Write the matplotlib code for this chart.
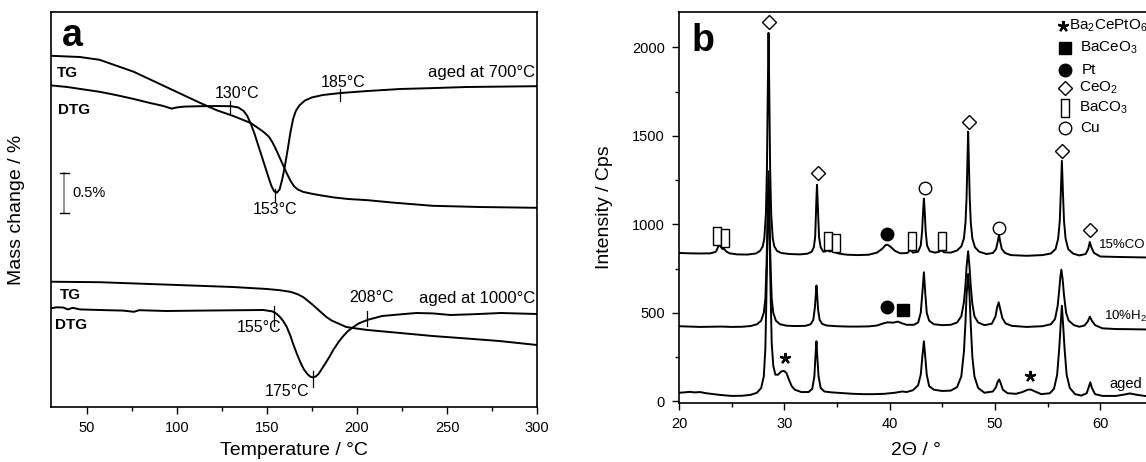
import matplotlib
matplotlib.use("Agg")
import matplotlib.pyplot as plt

plt.rcParams["font.family"] = ["Liberation Sans", "DejaVu Sans"]
plt.rcParams["mathtext.fontset"] = "custom"
plt.rcParams["mathtext.rm"] = "Liberation Sans"
plt.rcParams["mathtext.it"] = "Liberation Sans:italic"
plt.rcParams["mathtext.bf"] = "Liberation Sans:bold"

# ---------------- panel a : TG / DTG (mass change in %, curves offset) ----------------
tg700_t = [30, 46, 57, 76, 94, 113, 122, 131, 141, 148, 151, 153, 155, 157, 159, 161, 163,
           165, 167, 170, 175, 180, 187, 195, 206, 220, 242, 268, 300]
tg700 = [4.39, 4.375, 4.34, 4.19, 4.00, 3.80, 3.71, 3.64, 3.55, 3.44, 3.38, 3.31, 3.22, 3.12,
         3.02, 2.92, 2.83, 2.76, 2.72, 2.69, 2.665, 2.645, 2.62, 2.60, 2.585, 2.555, 2.515,
         2.50, 2.49]

dtg700_t = [30, 39, 48, 57, 66, 76, 85, 92, 97, 100, 104, 113, 122, 130, 134, 137, 139, 141,
            143, 145, 147, 149, 151, 152.5, 154, 155.5, 157, 158.5, 160, 161.5, 163, 164.5,
            166, 168, 171, 175, 181, 191, 206, 224, 240, 261, 300]
dtg700 = [4.02, 4.00, 3.97, 3.94, 3.90, 3.85, 3.80, 3.765, 3.73, 3.745, 3.755, 3.76, 3.762,
          3.76, 3.745, 3.70, 3.64, 3.54, 3.42, 3.28, 3.14, 3.00, 2.86, 2.76, 2.695, 2.68,
          2.72, 2.85, 3.02, 3.22, 3.43, 3.60, 3.70, 3.77, 3.83, 3.87, 3.90, 3.925, 3.95,
          3.975, 3.985, 4.00, 4.01]

tg1000_t = [30, 57, 94, 131, 150, 157, 163, 167, 170, 172, 175, 178, 181, 183, 186, 189, 194,
            200, 206, 224, 242, 261, 279, 300]
tg1000 = [1.566, 1.56, 1.53, 1.50, 1.475, 1.46, 1.44, 1.41, 1.375, 1.34, 1.285, 1.225, 1.165,
          1.125, 1.08, 1.05, 1.00, 0.98, 0.9625, 0.925, 0.8875, 0.856, 0.825, 0.775]

dtg1000_t = [30, 33, 36.7, 39.4, 42, 46, 57, 70, 76, 79, 94, 113, 131, 148, 153, 155, 157, 159,
             161, 163, 164.5, 166.5, 168.5, 170.5, 172.5, 174, 175.5, 177, 178.5, 180, 182,
             184.5, 187, 190, 192.5, 195, 198, 201, 206, 214, 225, 233, 242, 252, 265, 280, 300]
dtg1000 = [1.234, 1.246, 1.244, 1.22, 1.24, 1.22, 1.2125, 1.205, 1.19, 1.21, 1.20, 1.205,
           1.209, 1.2125, 1.195, 1.17, 1.13, 1.075, 1.00, 0.89, 0.79, 0.67, 0.56, 0.47, 0.41,
           0.38, 0.37, 0.38, 0.41, 0.46, 0.53, 0.62, 0.72, 0.82, 0.89, 0.95, 1.00, 1.045,
           1.09, 1.1375, 1.16, 1.175, 1.17, 1.15, 1.16, 1.175, 1.1625]

# temperature marks: (T, y_low, y_high, label, label_T, label_y)
marks_a = [
    (129.4, 3.675, 3.825, "130°C", 133.3, 3.925),
    (154.4, 2.575, 2.72, "153°C", 154.4, 2.475),
    (190.6, 3.825, 3.975, "185°C", 192.2, 4.06),
    (153.9, 1.0125, 1.2625, "155°C", 145.6, 0.9875),
    (175.6, 0.25, 0.45, "175°C", 161.1, 0.20),
    (205.6, 1.0125, 1.20, "208°C", 208.3, 1.3625),
]

# ---------------- panel b : XRD patterns, (2theta, intensity) ----------------
co_points = [
    (20.0, 838), (21.0, 836), (22.0, 835), (23.0, 836), (23.5, 845), (23.7, 870), (23.8, 888),
    (23.95, 874), (24.1, 862), (24.3, 860), (24.5, 846), (24.8, 836), (25.5, 830), (26.5, 829),
    (27.3, 835), (27.7, 850), (27.95, 875), (28.1, 920), (28.25, 1060), (28.35, 1320),
    (28.43, 1760), (28.5, 2082), (28.57, 1760), (28.65, 1320), (28.75, 1060), (28.9, 920),
    (29.05, 875), (29.3, 850), (29.7, 838), (30.5, 832), (31.5, 830), (32.2, 834), (32.6, 845),
    (32.8, 870), (32.93, 930), (33.0, 1060), (33.05, 1150), (33.1, 1223), (33.15, 1150),
    (33.22, 1040), (33.3, 925), (33.45, 870), (33.7, 845), (33.95, 848), (34.1, 855),
    (34.3, 846), (34.6, 850), (34.85, 840), (35.3, 833), (36.0, 828), (37.0, 826), (38.0, 828),
    (38.8, 840), (39.3, 862), (39.6, 882), (39.8, 885), (40.1, 872), (40.5, 850), (41.0, 836),
    (41.7, 838), (41.95, 856), (42.2, 840), (42.7, 845), (42.95, 880), (43.08, 960),
    (43.17, 1070), (43.25, 1145), (43.33, 1070), (43.42, 960), (43.55, 880), (43.8, 848),
    (44.3, 840), (44.7, 845), (44.9, 855), (45.15, 842), (45.8, 840), (46.4, 852), (46.8, 875),
    (47.05, 920), (47.2, 1010), (47.3, 1150), (47.38, 1350), (47.45, 1524), (47.52, 1350),
    (47.6, 1150), (47.7, 1010), (47.85, 920), (48.1, 870), (48.5, 845), (49.2, 832),
    (49.8, 838), (50.1, 860), (50.25, 900), (50.38, 940), (50.5, 900), (50.65, 860),
    (50.95, 838), (51.5, 826), (53.0, 822), (54.5, 826), (55.3, 835), (55.75, 860), (56.0, 920),
    (56.15, 1020), (56.25, 1180), (56.35, 1359), (56.45, 1180), (56.55, 1020), (56.7, 920),
    (56.95, 860), (57.4, 835), (58.0, 824), (58.6, 832), (58.85, 860), (59.0, 900),
    (59.15, 870), (59.4, 838), (60.0, 818), (62.0, 815), (65.0, 812),
]

h2_points = [
    (20.0, 424), (21.0, 422), (22.0, 420), (23.0, 421), (24.0, 422), (25.0, 420), (26.0, 421),
    (26.8, 425), (27.4, 435), (27.8, 455), (28.05, 500), (28.2, 580), (28.3, 750), (28.4, 1000),
    (28.5, 1300), (28.6, 1000), (28.7, 750), (28.8, 580), (28.95, 500), (29.2, 455), (29.6, 435),
    (30.2, 427), (31.0, 425), (32.0, 426), (32.5, 435), (32.75, 460), (32.9, 530), (33.0, 610),
    (33.05, 654), (33.12, 600), (33.2, 520), (33.35, 460), (33.6, 437), (34.0, 428), (35.0, 424),
    (36.0, 422), (37.0, 422), (38.0, 423), (38.8, 428), (39.4, 440), (39.8, 446), (40.3, 444),
    (40.8, 450), (41.1, 442), (41.6, 432), (42.3, 432), (42.7, 445), (42.95, 500), (43.1, 610),
    (43.25, 729), (43.38, 610), (43.52, 500), (43.75, 455), (44.2, 435), (45.0, 430),
    (45.8, 432), (46.4, 445), (46.8, 480), (47.05, 560), (47.2, 660), (47.3, 760), (47.45, 848),
    (47.58, 760), (47.7, 650), (47.85, 550), (48.05, 480), (48.4, 445), (49.0, 430), (49.7, 438),
    (50.05, 480), (50.2, 530), (50.35, 559), (50.5, 520), (50.7, 470), (51.0, 440), (51.6, 426),
    (53.0, 420), (54.5, 424), (55.3, 435), (55.7, 465), (55.95, 540), (56.1, 630), (56.2, 700),
    (56.3, 744), (56.42, 690), (56.55, 600), (56.75, 500), (57.0, 455), (57.5, 430), (58.0, 421),
    (58.5, 428), (58.8, 450), (59.0, 478), (59.2, 455), (59.5, 430), (60.2, 412), (61.5, 408),
    (63.0, 407), (65.0, 405),
]

aged_points = [
    (20.0, 48), (20.5, 50), (21.0, 53), (21.5, 50), (22.0, 52), (22.5, 46), (23.0, 42),
    (24.0, 35), (25.0, 30), (26.0, 31), (26.8, 36), (27.4, 48), (27.8, 75), (28.05, 140),
    (28.2, 300), (28.3, 600), (28.4, 950), (28.5, 1250), (28.6, 950), (28.7, 600), (28.8, 330),
    (28.95, 200), (29.15, 150), (29.4, 150), (29.7, 168), (29.95, 172), (30.2, 160),
    (30.45, 120), (30.7, 85), (31.0, 65), (31.6, 52), (32.3, 52), (32.65, 70), (32.85, 140),
    (32.95, 250), (33.05, 339), (33.13, 250), (33.25, 140), (33.45, 75), (33.8, 55), (34.5, 50),
    (35.5, 46), (36.5, 42), (37.5, 40), (38.5, 40), (39.5, 42), (40.5, 48), (41.2, 55),
    (41.6, 52), (42.2, 62), (42.7, 90), (42.95, 150), (43.1, 250), (43.25, 339), (43.38, 250),
    (43.52, 150), (43.75, 85), (44.2, 65), (45.0, 58), (45.8, 60), (46.4, 80), (46.8, 140),
    (47.05, 280), (47.2, 450), (47.3, 600), (47.45, 720), (47.58, 600), (47.7, 430),
    (47.85, 250), (48.05, 140), (48.4, 75), (49.0, 48), (49.8, 55), (50.1, 80), (50.25, 110),
    (50.4, 123), (50.55, 100), (50.75, 65), (51.2, 45), (52.0, 42), (52.6, 52), (53.1, 65),
    (53.4, 66), (53.8, 55), (54.4, 40), (55.2, 45), (55.6, 70), (55.9, 150), (56.1, 300),
    (56.22, 420), (56.35, 540), (56.48, 420), (56.6, 300), (56.8, 150), (57.1, 75), (57.6, 40),
    (58.2, 32), (58.7, 45), (58.9, 80), (59.05, 107), (59.2, 75), (59.5, 40), (60.2, 30),
    (61.5, 30), (62.3, 38), (62.8, 44), (63.5, 36), (64.2, 30), (65.0, 28),
]

pattern_labels = ["15%CO", "10%H$_2$", "aged"]
pattern_label_pos = [(59.9, 885), (60.33, 478), (60.84, 100)]
pattern_label_size = [9.5, 9.5, 10.5]

# phase markers
ceo2_tt = [28.5, 33.2, 47.55, 56.35, 59.05]
ceo2_i = [2141, 1290, 1577, 1412, 970]
cu_tt = [43.4, 50.4]
cu_i = [1206, 980]
pt_tt = [39.7, 39.7]
pt_i = [947, 530]
baceo3_tt = [41.3]
baceo3_i = [518]
baco3_tt = [23.65, 24.35, 34.1, 34.95, 42.1, 44.95]
baco3_i = [932, 923, 904, 895, 904, 904]
ba2cepto6_tt = [30.05, 53.3]
ba2cepto6_i = [245, 141]

legend_names = ["Ba$_2$CePtO$_6$", "BaCeO$_3$", "Pt", "CeO$_2$", "BaCO$_3$", "Cu"]

# marker styles
rect = [(-0.22, -0.5), (0.22, -0.5), (0.22, 0.5), (-0.22, 0.5), (-0.22, -0.5)]
st_star = dict(marker=(5, 2, 0), ms=8, mew=1.6, color="black", ls="none")
st_square = dict(marker="s", ms=8, color="black", ls="none")
st_dot = dict(marker="o", ms=9, color="black", ls="none")
st_diamond = dict(marker="D", ms=7.5, mfc="white", mec="black", mew=1.0, ls="none")
st_rect = dict(marker=rect, ms=13, mfc="white", mec="black", mew=1.0, ls="none")
st_circle = dict(marker="o", ms=9, mfc="white", mec="black", mew=1.0, ls="none")
legend_styles = [st_star, st_square, st_dot, st_diamond, st_rect, st_circle]

W, H = 1146, 462
fig = plt.figure(figsize=(W / 100, H / 100), dpi=100)

# ---------------- panel a ----------------
ax = fig.add_axes([51 / W, (H - 407) / H, 486 / W, 395 / H])
for t, y in [(tg700_t, tg700), (dtg700_t, dtg700), (tg1000_t, tg1000), (dtg1000_t, dtg1000)]:
    ax.plot(t, y, color="black", lw=1.4)
for t, y0, y1, lab, lx, ly in marks_a:
    ax.plot([t, t], [y0, y1], color="black", lw=0.9)
    ax.text(lx, ly, lab, ha="center", va="center", fontsize=11.5)

ax.text(298.9, 4.175, "aged at 700°C", ha="right", va="center", fontsize=12)
ax.text(298.9, 1.35, "aged at 1000°C", ha="right", va="center", fontsize=12)
ax.text(33.3, 4.175, "TG", ha="left", va="center", fontsize=11, fontweight="bold")
ax.text(33.9, 3.71, "DTG", ha="left", va="center", fontsize=11, fontweight="bold")
ax.text(35.0, 1.40, "TG", ha="left", va="center", fontsize=11, fontweight="bold")
ax.text(32.2, 1.025, "DTG", ha="left", va="center", fontsize=11, fontweight="bold")

# 0.5 % scale bar
ax.plot([37.2, 37.2], [2.43, 2.93], color="gray", lw=1.2)
ax.plot([35.0, 40.0], [2.93, 2.93], color="black", lw=1.0)
ax.plot([35.0, 40.0], [2.43, 2.43], color="black", lw=1.0)
ax.text(41.7, 2.675, "0.5%", ha="left", va="center", fontsize=10.5)

ax.text(0.023, 0.94, "a", transform=ax.transAxes, ha="left", va="center",
        fontsize=27, fontweight="bold")

ax.set_xlim(30, 300)
ax.set_ylim(0, 4.9375)
ax.set_xticks([50, 100, 150, 200, 250, 300])
ax.set_xticks([75, 125, 175, 225, 275], minor=True)
ax.set_yticks([])
ax.set_xlabel("Temperature / °C", fontsize=14)
ax.set_ylabel("Mass change / %", fontsize=14)
ax.xaxis.set_label_coords(0.5, -0.088)
ax.yaxis.set_label_coords(-0.054, 0.5)

# ---------------- panel b ----------------
bx = fig.add_axes([679 / W, (H - 403) / H, 474 / W, 391 / H])
for pts in (aged_points, h2_points, co_points):
    tt, ii = zip(*pts)
    bx.plot(tt, ii, color="black", lw=1.4)

bx.plot(ceo2_tt, ceo2_i, **st_diamond)
bx.plot(cu_tt, cu_i, **st_circle)
bx.plot(pt_tt, pt_i, **st_dot)
bx.plot(baceo3_tt, baceo3_i, **st_square)
bx.plot(baco3_tt, baco3_i, **st_rect)
bx.plot(ba2cepto6_tt, ba2cepto6_i, **st_star)

for lab, (x, y), fs in zip(pattern_labels, pattern_label_pos, pattern_label_size):
    bx.text(x, y, lab, ha="left", va="center", fontsize=fs)

leg_rows = [2123, 1997, 1874, 1770, 1658, 1545]
leg_mx = [56.41, 56.66, 56.66, 56.66, 56.66, 56.66]
leg_tx = [57.0, 58.1, 58.2, 58.0, 58.0, 58.1]
for name, st, y, mx, tx in zip(legend_names, legend_styles, leg_rows, leg_mx, leg_tx):
    bx.plot([mx], [y], clip_on=False, **st)
    bx.text(tx, y, name, ha="left", va="center", fontsize=11)

bx.text(0.027, 0.925, "b", transform=bx.transAxes, ha="left", va="center",
        fontsize=27, fontweight="bold")

bx.set_xlim(20, 65)
bx.set_ylim(-10, 2200)
bx.set_xticks([20, 30, 40, 50, 60])
bx.set_xticks([25, 35, 45, 55, 65], minor=True)
bx.set_yticks([0, 500, 1000, 1500, 2000])
bx.set_yticks([250, 750, 1250, 1750], minor=True)
bx.set_xlabel("2Θ / °", fontsize=14)
bx.set_ylabel("Intensity / Cps", fontsize=14)
bx.xaxis.set_label_coords(0.5, -0.10)
bx.yaxis.set_label_coords(-0.139, 0.5)

for a in (ax, bx):
    for s in a.spines.values():
        s.set_linewidth(1.2)
    a.tick_params(which="major", direction="out", length=5, width=1.0, labelsize=10.5, pad=5)
    a.tick_params(which="minor", direction="out", length=3, width=1.0)

fig.savefig("out.png", dpi=100)
